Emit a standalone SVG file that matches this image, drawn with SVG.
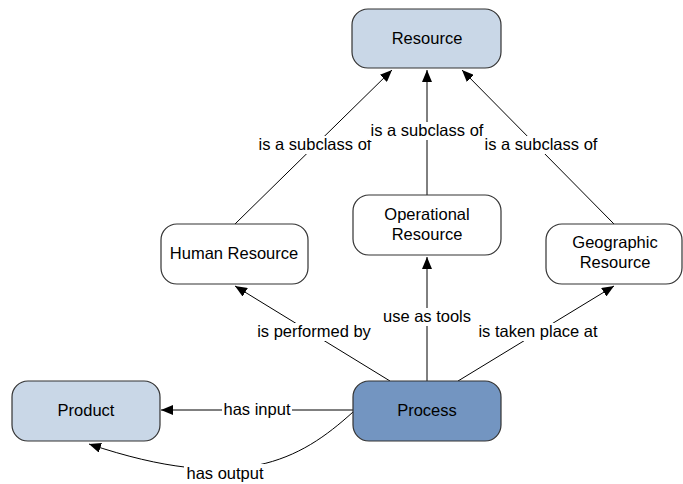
<svg xmlns="http://www.w3.org/2000/svg" width="683" height="484" viewBox="0 0 683 484">
  <style>
    .node { stroke: #333333; stroke-width: 1.2; }
    .plain { fill: #ffffff; }
    .light { fill: #c9d7e7; }
    .dark { fill: #7395c1; }
    text { font-family: "Liberation Sans", Arial, sans-serif; font-size: 16.5px; fill: #000000; text-anchor: middle; }
    .edge { stroke: #000000; stroke-width: 1; fill: none; marker-end: url(#arrow); }
    .lblbg { fill: #ffffff; }
  </style>
  <defs>
    <marker id="arrow" viewBox="0 0 12 10" refX="12" refY="5" markerWidth="12" markerHeight="10" markerUnits="userSpaceOnUse" orient="auto">
      <path d="M0,0 L12,5 L0,10 Z" fill="#000000"/>
    </marker>
  </defs>

  <!-- connectors -->
  <g id="connectors">
    <line class="edge" x1="235" y1="224" x2="392" y2="70"/>
    <line class="edge" x1="427" y1="195" x2="427" y2="70"/>
    <line class="edge" x1="614" y1="224" x2="462" y2="70"/>
    <line class="edge" x1="390" y1="381" x2="235" y2="286"/>
    <line class="edge" x1="427" y1="381" x2="427" y2="257"/>
    <line class="edge" x1="458" y1="381" x2="614" y2="286"/>
    <line class="edge" x1="353" y1="410" x2="161" y2="410"/>
    <path class="edge" d="M353,412 C300,460 240,495 89,444"/>

    <!-- labels -->
    <rect class="lblbg" x="257" y="136" width="116" height="18"/>
    <text x="315" y="150">is a subclass of</text>
    <rect class="lblbg" x="368" y="122" width="118" height="18"/>
    <text x="427" y="136">is a subclass of</text>
    <rect class="lblbg" x="482" y="136" width="118" height="18"/>
    <text x="541" y="150">is a subclass of</text>
    <rect class="lblbg" x="255" y="323" width="118" height="18"/>
    <text x="314" y="337">is performed by</text>
    <rect class="lblbg" x="382" y="308" width="90" height="18"/>
    <text x="427" y="322">use as tools</text>
    <rect class="lblbg" x="473" y="323" width="129" height="18"/>
    <text x="538" y="337">is taken place at</text>
    <rect class="lblbg" x="222" y="401" width="70" height="18"/>
    <text x="257" y="415">has input</text>
    <rect class="lblbg" x="184" y="464" width="83" height="19"/>
    <text x="225" y="479">has output</text>
  </g>

  <g id="resource">
    <rect class="node light" x="352" y="9" width="149" height="59" rx="16"/>
    <text x="427" y="44">Resource</text>
  </g>
  <g id="human-resource">
    <rect class="node plain" x="161" y="224" width="147" height="60" rx="16"/>
    <text x="234" y="259">Human Resource</text>
  </g>
  <g id="operational-resource">
    <rect class="node plain" x="353" y="195" width="148" height="60" rx="16"/>
    <text x="427" y="220">Operational</text>
    <text x="427" y="240">Resource</text>
  </g>
  <g id="geographic-resource">
    <rect class="node plain" x="546" y="224" width="136" height="60" rx="16"/>
    <text x="615" y="248">Geographic</text>
    <text x="615" y="268">Resource</text>
  </g>
  <g id="product">
    <rect class="node light" x="12" y="381" width="148" height="60" rx="16"/>
    <text x="86" y="416">Product</text>
  </g>
  <g id="process">
    <rect class="node dark" x="353" y="381" width="148" height="60" rx="16"/>
    <text x="427" y="416">Process</text>
  </g>
</svg>
